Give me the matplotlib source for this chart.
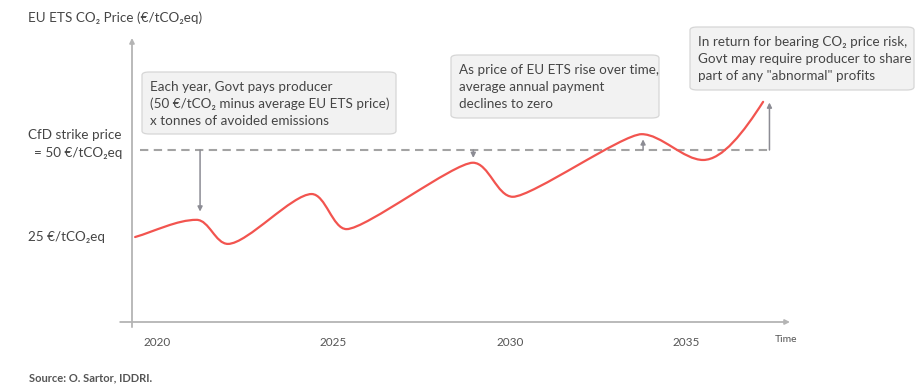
import matplotlib
matplotlib.use("Agg")
import matplotlib.pyplot as plt
from matplotlib.path import Path
from matplotlib.patches import PathPatch, FancyBboxPatch

plt.rcParams['font.family'] = ['Lato', 'DejaVu Sans']

# Schematic EU ETS price path: key turning points (year, €/tCO2eq) and end slopes
years = [2019.38, 2021.12, 2022.01, 2024.38, 2025.37, 2028.95, 2030.08, 2033.73, 2035.47, 2037.17]
prices = [24.7, 29.7, 22.7, 37.2, 27.0, 46.3, 36.4, 54.6, 47.1, 64.0]
slopes = [3.0, 0, 0, 0, 0, 0, 0, 0, 0, 16.0]

strike_price = 50
low_price = 25
tick_years = [2020, 2025, 2030, 2035]

# Vertical payment arrows: (year, start value, end value)
arrow_x = [2021.22, 2028.96, 2033.77, 2037.35]
arrow_end = [32.1, 47.7, 53.1, 63.8]

W, H = 915, 385
fig = plt.figure(figsize=(W / 100, H / 100), dpi=100)

def fx(x):
    return x / W

def fy(y):
    return 1 - y / H

ax_left, ax_right, ax_top, ax_bottom = 132, 790, 38, 322
ax = fig.add_axes([fx(ax_left), fy(ax_bottom), fx(ax_right - ax_left), (ax_bottom - ax_top) / H])
px_per_year = 35.3
x0 = 2020 + (ax_left - 157) / px_per_year
x1 = 2020 + (ax_right - 157) / px_per_year
ax.set_xlim(x0, x1)
ax.set_ylim(0, (ax_bottom - ax_top) / 3.44)
for s in ax.spines.values():
    s.set_visible(False)
ax.set_yticks([])
ax.set_xticks(tick_years)
ax.set_xticklabels([str(t) for t in tick_years], fontsize=8.5, color='#555555')
ax.tick_params(axis='x', length=0, pad=11)

axis_col = '#b4b4b4'
text_col = '#454545'
fs = 9.7

# Axes drawn as arrows
ax.annotate('', xy=(1, 0), xytext=(-0.018, 0), xycoords='axes fraction',
            arrowprops=dict(arrowstyle='-|>', color=axis_col, lw=1.3,
                            mutation_scale=7, shrinkA=0, shrinkB=0),
            annotation_clip=False)
ax.annotate('', xy=(0, 1), xytext=(0, -0.018), xycoords='axes fraction',
            arrowprops=dict(arrowstyle='-|>', color=axis_col, lw=1.3,
                            mutation_scale=7, shrinkA=0, shrinkB=0),
            annotation_clip=False)

# Strike price line
ax.plot([2019.52, 2037.41], [strike_price, strike_price], color='#a3a3a3',
        lw=1.5, ls=(0, (4, 2.6)), zorder=2)

# Smooth price curve from cubic Bezier segments
verts = [(years[0], prices[0])]
codes = [Path.MOVETO]
for i in range(len(years) - 1):
    dx = years[i + 1] - years[i]
    h = min(dx * 0.4, 0.55)
    verts += [(years[i] + h, prices[i] + slopes[i] * h),
              (years[i + 1] - h, prices[i + 1] - slopes[i + 1] * h),
              (years[i + 1], prices[i + 1])]
    codes += [Path.CURVE4] * 3
ax.add_patch(PathPatch(Path(verts, codes), facecolor='none', edgecolor='#f2544f',
                       lw=1.6, zorder=3, capstyle='round'))

# Payment arrows
for xa, ya in zip(arrow_x, arrow_end):
    ax.annotate('', xy=(xa, ya), xytext=(xa, strike_price),
                arrowprops=dict(arrowstyle='-|>', color='#8c8c94', lw=1.1,
                                mutation_scale=7, shrinkA=0, shrinkB=0),
                zorder=4)

# Axis texts
fig.text(fx(28), fy(18), 'EU ETS CO₂ Price (€/tCO₂eq)', fontsize=fs, color=text_col,
         va='center', ha='left')
fig.text(fx(122), fy(135), 'CfD strike price', fontsize=fs, color=text_col,
         va='center', ha='right')
fig.text(fx(122), fy(153), '= 50 €/tCO₂eq', fontsize=fs, color=text_col,
         va='center', ha='right')
fig.text(fx(28), fy(237), '25 €/tCO₂eq', fontsize=fs, color=text_col,
         va='center', ha='left')
fig.text(fx(786), fy(340), 'Time', fontsize=7.5, color='#555555', va='center', ha='center')
fig.text(fx(29), fy(378), 'Source: O. Sartor, IDDRI.', fontsize=8, color='#555555',
         va='center', ha='left', fontweight='bold')

# Annotation boxes: (left, top, right, bottom) in pixels, lines of text
boxes = [
    ((142, 72, 396, 134), ['Each year, Govt pays producer',
                           '(50 €/tCO₂ minus average EU ETS price)',
                           'x tonnes of avoided emissions']),
    ((451, 55, 659, 118), ['As price of EU ETS rise over time,',
                           'average annual payment',
                           'declines to zero']),
    ((690, 27, 914, 90), ['In return for bearing CO₂ price risk,',
                          'Govt may require producer to share',
                          'part of any "abnormal" profits']),
]
for (l, t, r, b), lines in boxes:
    fig.patches.append(FancyBboxPatch((fx(l), fy(b)), fx(r - l), (b - t) / H,
                                      boxstyle='round,pad=0,rounding_size=0.008',
                                      transform=fig.transFigure, facecolor='#f2f2f2',
                                      edgecolor='#d6d6d6', lw=0.9))
    for k, line in enumerate(lines):
        fig.text(fx(l + 8), fy(t + 15 + 17 * k), line, fontsize=fs, color=text_col,
                 va='center', ha='left')

fig.savefig('out.png', dpi=100)
